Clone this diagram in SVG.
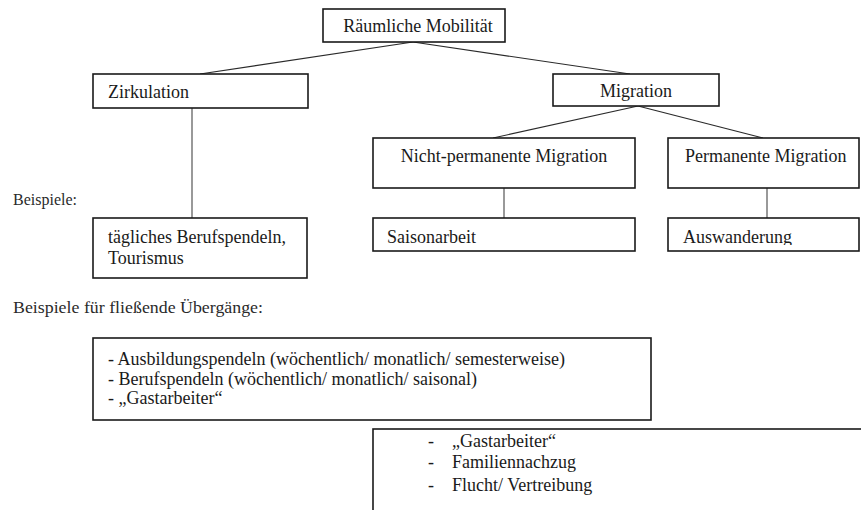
<svg xmlns="http://www.w3.org/2000/svg" width="861" height="510" viewBox="0 0 861 510">
  <style>
    .box { fill: #ffffff; stroke: #1a1a1a; stroke-width: 1.6; }
    .edge { stroke: #2a2a2a; stroke-width: 1.2; fill: none; }
    .stem { stroke: #555555; stroke-width: 1.2; fill: none; }
    .t { font-family: "Liberation Serif", "Times New Roman", serif; font-size: 18px; fill: #1a1a1a; }
    .lbl { font-family: "Liberation Serif", "Times New Roman", serif; font-size: 17px; fill: #2a2a2a; }
    .mid { text-anchor: middle; }
  </style>

  <defs>
    <!-- text frame of the "Auswanderung" box cuts off the descenders -->
    <clipPath id="clip-auswanderung">
      <rect x="669" y="219" width="189" height="26"/>
    </clipPath>
  </defs>

  <rect width="861" height="510" fill="#ffffff"/>

  <!-- connectors -->
  <g id="connectors">
    <line class="edge" x1="413" y1="42" x2="200" y2="74"/>
    <line class="edge" x1="413" y1="42" x2="630" y2="74"/>
    <line class="edge" x1="638" y1="106" x2="493" y2="138"/>
    <line class="edge" x1="638" y1="106" x2="763" y2="138"/>
    <line class="stem" x1="192" y1="108" x2="192" y2="218"/>
    <line class="stem" x1="504" y1="188" x2="504" y2="218"/>
    <line class="stem" x1="767" y1="188" x2="767" y2="218"/>
  </g>

  <g id="raeumliche-mobilitaet">
    <rect class="box" x="323" y="9" width="182" height="33"/>
    <text class="t mid" x="418" y="32" font-size="19">Räumliche Mobilität</text>
  </g>

  <g id="zirkulation">
    <rect class="box" x="93" y="74" width="215" height="34"/>
    <text class="t" x="108" y="98">Zirkulation</text>
  </g>

  <g id="migration">
    <rect class="box" x="553" y="74" width="166" height="32"/>
    <text class="t mid" x="636" y="97">Migration</text>
  </g>

  <g id="nicht-permanente-migration">
    <rect class="box" x="373" y="138" width="262" height="50"/>
    <text class="t mid" x="504" y="162">Nicht-permanente Migration</text>
  </g>

  <g id="permanente-migration">
    <rect class="box" x="668" y="138" width="191" height="50"/>
    <text class="t" x="685" y="162">Permanente Migration</text>
  </g>

  <text class="lbl" x="13" y="205" textLength="64" lengthAdjust="spacingAndGlyphs">Beispiele:</text>

  <g id="zirkulation-beispiel">
    <rect class="box" x="93" y="218" width="214" height="60"/>
    <text class="t" x="108" y="243">tägliches Berufspendeln,</text>
    <text class="t" x="108" y="264">Tourismus</text>
  </g>

  <g id="saisonarbeit">
    <rect class="box" x="373" y="218" width="262" height="33"/>
    <text class="t" x="387" y="243">Saisonarbeit</text>
  </g>

  <g id="auswanderung">
    <rect class="box" x="668" y="218" width="191" height="33"/>
    <text class="t" x="683" y="243" clip-path="url(#clip-auswanderung)">Auswanderung</text>
  </g>

  <text class="lbl" x="13" y="313" textLength="250" lengthAdjust="spacingAndGlyphs">Beispiele für fließende Übergänge:</text>

  <g id="uebergaenge-zirkulation">
    <rect class="box" x="93" y="338" width="558" height="82"/>
    <text class="t" x="108" y="365">- Ausbildungspendeln (wöchentlich/ monatlich/ semesterweise)</text>
    <text class="t" x="108" y="385">- Berufspendeln (wöchentlich/ monatlich/ saisonal)</text>
    <text class="t" x="108" y="404">- „Gastarbeiter“</text>
  </g>

  <g id="uebergaenge-migration">
    <rect class="box" x="373" y="429" width="500" height="100"/>
    <text class="t" x="428" y="447">-</text>
    <text class="t" x="452" y="447">„Gastarbeiter“</text>
    <text class="t" x="428" y="468">-</text>
    <text class="t" x="452" y="468">Familiennachzug</text>
    <text class="t" x="428" y="491">-</text>
    <text class="t" x="452" y="491">Flucht/ Vertreibung</text>
  </g>
</svg>
